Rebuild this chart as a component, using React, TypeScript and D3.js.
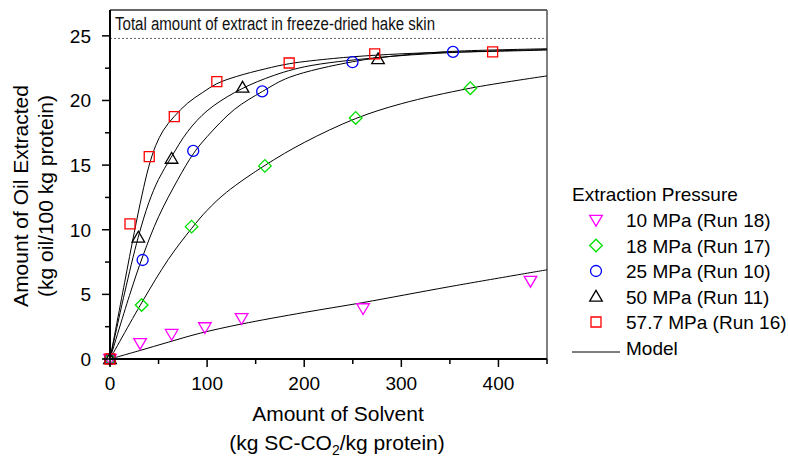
import React from "react";
import * as d3 from "d3";

const W = 788, H = 459;
const FONT = "'Liberation Sans', Arial, sans-serif";

// Data: [amount of solvent, amount of oil extracted]
const run18 = [[0, 0], [31, 1.22], [63.5, 1.93], [97.7, 2.45], [135.5, 3.15], [260.6, 3.92], [433, 6.04]];
const run17 = [[0, 0], [32.6, 4.18], [84, 10.24], [159.5, 14.94], [253, 18.65], [371, 20.95]];
const run10 = [[0, 0], [33.6, 7.66], [85.7, 16.1], [156.7, 20.7], [249.7, 22.96], [353.2, 23.76]];
const run11 = [[0, 0], [29.2, 9.4], [63.4, 15.5], [136.5, 21.0], [276, 23.2]];
const run16 = [[0, 0], [20.6, 10.45], [40.4, 15.66], [66.2, 18.75], [110, 21.46], [184.5, 22.9], [272.6, 23.6], [394, 23.76]];

// Model curves
const model18 = [[0, 0], [30, 0.64], [60, 1.3], [93, 2.0], [135, 2.7], [200, 3.6], [260, 4.36], [350, 5.6], [450, 6.9]];
const model17 = [[0, 0], [33, 4.4], [60, 7.7], [84, 10.1], [100, 11.5], [120, 12.9], [160, 15.0], [200, 16.75], [253, 18.6], [300, 19.75], [371, 20.95], [450, 21.9]];
const model10 = [[0, 0], [20, 4.9], [34, 8.0], [50, 11.0], [70, 13.9], [86, 15.9], [100, 17.2], [128, 19.3], [157, 20.7], [185, 21.8], [250, 23.0], [300, 23.5], [353, 23.8], [450, 24.0]];
const model11 = [[0, 0], [15, 5.1], [29, 9.4], [40, 12.1], [50, 13.9], [63, 15.6], [80, 17.6], [100, 19.2], [128, 20.6], [160, 21.7], [200, 22.6], [273, 23.3], [350, 23.7], [450, 23.95]];
const model16 = [[0, 0], [15, 5.9], [25, 9.8], [33, 12.7], [40, 14.9], [47, 16.5], [55, 17.7], [66, 18.75], [80, 19.8], [95, 20.6], [110, 21.3], [130, 21.85], [160, 22.45], [185, 22.85], [230, 23.25], [273, 23.5], [330, 23.7], [394, 23.8], [450, 23.9]];

const totalExtract = 24.8;

const xMajor = [0, 100, 200, 300, 400];
const xMinor = [50, 150, 250, 350, 450];
const yMajor = [0, 5, 10, 15, 20, 25];
const yMinor = [2.5, 7.5, 12.5, 17.5, 22.5];

const legendLabels = ["10 MPa (Run 18)", "18 MPa (Run 17)", "25 MPa (Run 10)", "50 MPa (Run 11)", "57.7 MPa (Run 16)"];
const colors = ["#ff00ff", "#00e000", "#0000ff", "#000000", "#ff0000"];
const shapes = ["tdown", "diamond", "circle", "tup", "square"];

function shapePath(s: string): string {
  switch (s) {
    case "tdown": return "M-6.3,-4.6L6.3,-4.6L0,6.2Z";
    case "tup": return "M0,-6.2L6.3,4.6L-6.3,4.6Z";
    case "diamond": return "M0,-6.3L6.3,0L0,6.3L-6.3,0Z";
    case "square": return "M-5,-5L5,-5L5,5L-5,5Z";
    default: return "M5.5,0A5.5,5.5 0 1,1 -5.5,0A5.5,5.5 0 1,1 5.5,0Z";
  }
}

export default function App() {
  const x = d3.scaleLinear().domain([0, 450]).range([110, 547]);
  const y = d3.scaleLinear().domain([0, 27]).range([359, 10]);
  const line = d3.line<number[]>().x(d => x(d[0])).y(d => y(d[1])).curve(d3.curveCatmullRom.alpha(0.5));
  const series = [run18, run17, run10, run11, run16];
  const models = [model18, model17, model10, model11, model16];

  return (
    <svg width={W} height={H} style={{ position: "absolute", left: 0, top: 0, background: "#fff" }} fontFamily={FONT}>
      {/* frame top/right */}
      <line x1={x(0)} x2={x(450)} y1={y(27)} y2={y(27)} stroke="#333" strokeWidth={1.5} />
      <line x1={x(450)} x2={x(450)} y1={y(27)} y2={y(0)} stroke="#555" strokeWidth={1.5} />
      {/* total extract line */}
      <line x1={x(0)} x2={x(450)} y1={y(totalExtract)} y2={y(totalExtract)} stroke="#666" strokeWidth={1} strokeDasharray="2,2" />
      <text x={115} y={30} fontSize={18} textLength={320} lengthAdjust="spacingAndGlyphs" fill="#111">Total amount of extract in freeze-dried hake skin</text>

      {/* model curves */}
      {models.map((m, i) => (
        <path key={"m" + i} d={line(m) || ""} fill="none" stroke="#000" strokeWidth={1} />
      ))}

      {/* markers */}
      {series.map((s, i) => (
        <g key={"s" + i}>
          {s.map((p, j) => (
            <path key={j} d={shapePath(shapes[i])} transform={`translate(${x(p[0])},${y(p[1])})`} fill="none" stroke={colors[i]} strokeWidth={1.3} />
          ))}
        </g>
      ))}

      {/* axes */}
      <line x1={x(0)} x2={x(0)} y1={y(27)} y2={y(0) + 1} stroke="#000" strokeWidth={2} />
      <line x1={x(0) - 1} x2={x(450)} y1={y(0)} y2={y(0)} stroke="#000" strokeWidth={2} />
      {xMajor.map(v => (
        <g key={"xM" + v}>
          <line x1={x(v)} x2={x(v)} y1={y(0)} y2={y(0) + 8} stroke="#000" strokeWidth={1.5} />
          <text x={x(v)} y={390} fontSize={19} textAnchor="middle">{v}</text>
        </g>
      ))}
      {xMinor.map(v => (
        <line key={"xm" + v} x1={x(v)} x2={x(v)} y1={y(0)} y2={y(0) + 5} stroke="#000" strokeWidth={1.5} />
      ))}
      {yMajor.map(v => (
        <g key={"yM" + v}>
          <line x1={x(0) - 8} x2={x(0)} y1={y(v)} y2={y(v)} stroke="#000" strokeWidth={1.5} />
          <text x={91} y={y(v) + 7} fontSize={19} textAnchor="end">{v}</text>
        </g>
      ))}
      {yMinor.map(v => (
        <line key={"ym" + v} x1={x(0) - 5} x2={x(0)} y1={y(v)} y2={y(v)} stroke="#000" strokeWidth={1.5} />
      ))}

      {/* axis titles */}
      <text x={338} y={421} fontSize={21} textAnchor="middle">Amount of Solvent</text>
      <text x={337} y={450} fontSize={21} textAnchor="middle">
        (kg SC-CO<tspan fontSize={14} dy={5}>2</tspan><tspan dy={-5}>/kg protein)</tspan>
      </text>
      <text transform={`translate(28,196) rotate(-90)`} fontSize={21} textAnchor="middle">Amount of Oil Extracted</text>
      <text transform={`translate(53,196) rotate(-90)`} fontSize={21} textAnchor="middle">(kg oil/100 kg protein)</text>

      {/* legend */}
      <text x={572} y={201} fontSize={19}>Extraction Pressure</text>
      {legendLabels.map((lab, i) => (
        <g key={"l" + i}>
          <path d={shapePath(shapes[i])} transform={`translate(596,${220 + i * 25.5})`} fill="none" stroke={colors[i]} strokeWidth={1.3} />
          <text x={626} y={227 + i * 25.5} fontSize={19}>{lab}</text>
        </g>
      ))}
      <line x1={572} x2={620} y1={352} y2={352} stroke="#000" strokeWidth={1} />
      <text x={626} y={355} fontSize={19}>Model</text>
    </svg>
  );
}
